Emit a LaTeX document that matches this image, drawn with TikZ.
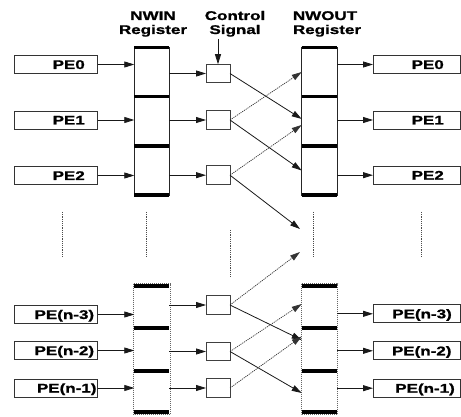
\documentclass[tikz,border=0pt]{standalone}
\usepackage{fontspec}
\setmainfont{Liberation Sans}[FakeStretch=1.35,BoldFeatures={FakeBold=1.2}]
\usetikzlibrary{arrows.meta}
\begin{document}
\begin{tikzpicture}[x=1pt,y=-1pt,
  font=\fontsize{12.6}{14}\selectfont\bfseries,
  ln/.style={draw=black!90, line width=0.8pt},
  arr/.style={ln, -{Triangle[length=10pt,width=6pt]}},
  darr/.style={draw=black!80, line width=0.7pt, dash pattern=on 1.2pt off 0.9pt, -{Triangle[length=10pt,width=6pt]}},
  pebox/.style={draw=black!80, line width=0.9pt, minimum height=18pt, inner sep=0pt, outer sep=0pt},
  lpe/.style={pebox, minimum width=83.5pt},
  rpe/.style={pebox, minimum width=87pt},
  ctl/.style={draw=black!75, line width=0.9pt, minimum width=24pt, minimum height=18.5pt, inner sep=0pt, outer sep=0pt},
  cell/.style={minimum width=35pt, inner sep=0pt, outer sep=0pt},
  lbl/.style={inner sep=0pt, anchor=base east},
  hdr/.style={inner sep=0pt, anchor=base},
  bar/.style={line width=3.5pt, black},
  side/.style={draw=black!85, line width=0.9pt},
  dside/.style={draw=black!60, line width=0.8pt, dash pattern=on 1pt off 1pt},
  vdots/.style={draw=black!70, line width=0.8pt, dash pattern=on 1.2pt off 1pt}
]
\useasboundingbox (0,0) rectangle (461,417);

% headers
\node[hdr] (h1a) at (153,20) {NWIN};
\node[hdr] (h1b) at (153,34) {Register};
\node[hdr] (h2a) at (235,20) {Control};
\node[hdr] (h2b) at (235,34) {Signal};
\node[hdr] (h3a) at (325,20) {NWOUT};
\node[hdr] (h3b) at (327,34) {Register};

% registers (outlines and bars)
\draw[side] (134.3,47.5) rectangle (169.3,195);
\draw[side] (301.7,47.5) rectangle (337,195);
\draw[dside] (133.5,283.5) rectangle (170.2,414.5);
\draw[dside] (300.9,283.5) rectangle (337.8,414.5);
\foreach \y in {47.5,96.5,146,195,286,328,371,412}{
  \draw[bar] (134.3,\y) -- (169.3,\y);
  \draw[bar] (301.7,\y) -- (337,\y);
}

% register cells (for connectors)
\node[cell, minimum height=49pt] (NI0) at (151.8,72) {};
\node[cell, minimum height=49.5pt] (NI1) at (151.8,121.25) {};
\node[cell, minimum height=49pt] (NI2) at (151.8,170.5) {};
\node[cell, minimum height=42pt] (NIa) at (151.8,307) {};
\node[cell, minimum height=43pt] (NIb) at (151.8,349.5) {};
\node[cell, minimum height=41pt] (NIc) at (151.8,391.5) {};
\node[cell, minimum width=35.3pt, minimum height=49pt] (NO0) at (319.35,72) {};
\node[cell, minimum width=35.3pt, minimum height=49.5pt] (NO1) at (319.35,121.25) {};
\node[cell, minimum width=35.3pt, minimum height=49pt] (NO2) at (319.35,170.5) {};
\node[cell, minimum width=35.3pt, minimum height=42pt] (NOa) at (319.35,307) {};
\node[cell, minimum width=35.3pt, minimum height=43pt] (NOb) at (319.35,349.5) {};
\node[cell, minimum width=35.3pt, minimum height=41pt] (NOc) at (319.35,391.5) {};

% left PE boxes
\node[lpe] (L0) at (55.75,64.5) {};
\node[lpe] (L1) at (55.75,120) {};
\node[lpe] (L2) at (55.75,175.5) {};
\node[lpe] (La) at (55.75,314.5) {};
\node[lpe] (Lb) at (55.75,350.5) {};
\node[lpe] (Lc) at (55.75,388) {};
\node[lbl] (tL0) at (85,69) {PE0};
\node[lbl] (tL1) at (85,124.5) {PE1};
\node[lbl] (tL2) at (85,180) {PE2};
\node[lbl] (tLa) at (94.3,319) {PE(n-3)};
\node[lbl] (tLb) at (94.3,355) {PE(n-2)};
\node[lbl] (tLc) at (96.7,392.5) {PE(n-1)};

% right PE boxes
\node[rpe] (R0) at (416.5,64.5) {};
\node[rpe] (R1) at (416.5,120) {};
\node[rpe] (R2) at (416.5,175.2) {};
\node[rpe] (Ra) at (416.5,313.8) {};
\node[rpe] (Rb) at (416.5,350.8) {};
\node[rpe] (Rc) at (416.5,388.2) {};
\node[lbl] (tR0) at (444,69) {PE0};
\node[lbl] (tR1) at (444,124.5) {PE1};
\node[lbl] (tR2) at (444,179.7) {PE2};
\node[lbl] (tRa) at (452,318.3) {PE(n-3)};
\node[lbl] (tRb) at (451.7,355.3) {PE(n-2)};
\node[lbl] (tRc) at (455,392.7) {PE(n-1)};

% control boxes
\node[ctl] (C0) at (218,73.5) {};
\node[ctl] (C1) at (218,120) {};
\node[ctl] (C2) at (218,175.2) {};
\node[ctl] (Ca) at (218,305) {};
\node[ctl] (Cb) at (218,351.5) {};
\node[ctl] (Cc) at (218,388) {};

% control signal
\coordinate (cs) at (218,39);
\draw[arr] (cs) -- (C0.north);

% PE -> NWIN
\foreach \p/\r in {L0/NI0,L1/NI1,L2/NI2,La/NIa,Lb/NIb,Lc/NIc}{
  \draw[arr] (\p.east) -- (\p.east -| \r.west);
}
% NWIN -> control
\foreach \r/\c in {NI0/C0,NI1/C1,NI2/C2,NIa/Ca,NIb/Cb,NIc/Cc}{
  \draw[arr] (\r.east |- \c.west) -- (\c.west);
}
% NWOUT -> PE
\foreach \r/\p in {NO0/R0,NO1/R1,NO2/R2,NOa/Ra,NOb/Rb,NOc/Rc}{
  \draw[arr] (\r.east |- \p.west) -- (\p.west);
}

% crossings
\coordinate (g1) at (300,229);
\coordinate (g2) at (300,252);
\draw[arr]  (C0.east) -- ([yshift=2.3pt]NO1.west);
\draw[darr] (C1.east) -- (NO0.west);
\draw[arr]  (C1.east) -- (NO2.west);
\draw[darr] (C2.east) -- ([yshift=-3.7pt]NO1.west);
\draw[arr]  (C2.east) -- (g1);
\draw[darr] (Ca.east) -- (g2);
\draw[arr]  (Ca.east) -- ([yshift=9.5pt]NOb.west);
\draw[darr] (Cb.east) -- ([yshift=3pt]NOa.west);
\draw[arr]  (Cb.east) -- ([yshift=-1.5pt]NOc.west);
\draw[darr] (Cc.east) -- ([yshift=13pt]NOb.west);

% continuation dots
\draw[vdots] (62,212) -- (62,258);
\draw[vdots] (146,212) -- (146,258);
\draw[vdots] (230,230) -- (230,277);
\draw[vdots] (313,212) -- (313,258);
\draw[vdots] (421,212) -- (421,258);
\end{tikzpicture}
\end{document}
